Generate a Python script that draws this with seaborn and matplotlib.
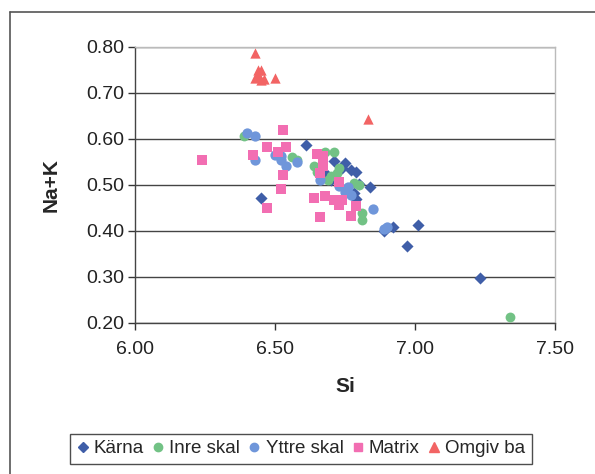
import pandas as pd
import matplotlib.pyplot as plt
import seaborn as sns
from matplotlib.lines import Line2D

# Si vs Na+K
karna_si = [6.45, 6.61, 6.68, 6.70, 6.71, 6.74, 6.75, 6.77, 6.79, 6.78, 6.79,
            6.80, 6.84, 6.89, 6.92, 6.97, 7.01, 7.23]
karna_nak = [0.472, 0.586, 0.525, 0.511, 0.551, 0.536, 0.547, 0.533, 0.528, 0.483,
             0.470, 0.502, 0.495, 0.399, 0.409, 0.366, 0.413, 0.298]

inre_si = [6.39, 6.56, 6.58, 6.64, 6.65, 6.68, 6.69, 6.70, 6.71, 6.72, 6.73,
           6.78, 6.80, 6.81, 6.81, 7.34]
inre_nak = [0.607, 0.560, 0.554, 0.540, 0.528, 0.572, 0.511, 0.520, 0.571, 0.525,
            0.536, 0.505, 0.500, 0.438, 0.424, 0.212]

yttre_si = [6.40, 6.43, 6.43, 6.50, 6.52, 6.52, 6.54, 6.58, 6.66, 6.73, 6.75,
            6.76, 6.77, 6.85, 6.89, 6.90]
yttre_nak = [0.612, 0.607, 0.553, 0.565, 0.562, 0.554, 0.540, 0.549, 0.511, 0.498,
             0.485, 0.496, 0.478, 0.448, 0.405, 0.409]

matrix_si = [6.24, 6.53, 6.47, 6.42, 6.51, 6.54, 6.53, 6.52, 6.47, 6.65, 6.67,
             6.67, 6.66, 6.64, 6.68, 6.71, 6.74, 6.73, 6.73, 6.79, 6.77, 6.66]
matrix_nak = [0.554, 0.620, 0.582, 0.565, 0.572, 0.583, 0.522, 0.491, 0.449, 0.567,
              0.563, 0.540, 0.525, 0.472, 0.476, 0.467, 0.467, 0.457, 0.507, 0.453,
              0.433, 0.430]

omgiv_si = [6.43, 6.44, 6.45, 6.43, 6.45, 6.46, 6.50, 6.44, 6.83]
omgiv_nak = [0.786, 0.749, 0.749, 0.732, 0.727, 0.730, 0.733, 0.738, 0.643]

series = ['Kärna', 'Inre skal', 'Yttre skal', 'Matrix', 'Omgiv ba']
colors = ['#3F5EA8', '#72C285', '#6F96DA', '#F26EB2', '#F26464']
markers = ['D', 'o', 'o', 's', '^']
sizes = [38, 50, 55, 48, 55]

frames = []
for name, xs, ys in zip(series,
                        [karna_si, inre_si, yttre_si, matrix_si, omgiv_si],
                        [karna_nak, inre_nak, yttre_nak, matrix_nak, omgiv_nak]):
    frames.append(pd.DataFrame({'Si': xs, 'Na+K': ys, 'serie': name}))
df = pd.concat(frames, ignore_index=True)

sns.set_style("white")
plt.rcParams['font.family'] = ['Liberation Sans', 'DejaVu Sans']

fig = plt.figure(figsize=(5.95, 4.74), dpi=100)
ax = fig.add_axes([0.227, 0.319, 0.706, 0.582])

for name, col, mk, sz in zip(series, colors, markers, sizes):
    sub = df[df['serie'] == name]
    sns.scatterplot(data=sub, x='Si', y='Na+K', ax=ax, color=col, marker=mk,
                    s=sz, linewidth=0, label=name, legend=False, zorder=3)

ax.set_xlim(6.0, 7.5)
ax.set_ylim(0.2, 0.8)
ax.set_xticks([6.0, 6.5, 7.0, 7.5])
ax.set_yticks([0.2, 0.3, 0.4, 0.5, 0.6, 0.7, 0.8])
ax.xaxis.set_major_formatter(plt.FormatStrFormatter('%.2f'))
ax.yaxis.set_major_formatter(plt.FormatStrFormatter('%.2f'))
ax.tick_params(axis='both', labelsize=14, direction='out', length=5, width=1,
               color='#333333', labelcolor='#222222', left=True, bottom=True)
ax.tick_params(axis='x', pad=8)
ax.tick_params(axis='y', pad=3)
ax.yaxis.grid(True, color='#444444', linewidth=1)
ax.set_axisbelow(True)

for side in ['left', 'bottom']:
    ax.spines[side].set_color('#444444')
    ax.spines[side].set_linewidth(1)
for side in ['top', 'right']:
    ax.spines[side].set_color('#BBBBBB')
    ax.spines[side].set_linewidth(1)

ax.set_xlabel('Si', fontsize=15, fontweight='bold', labelpad=14)
ax.set_ylabel('Na+K', fontsize=15, fontweight='bold', labelpad=18)

handles = [Line2D([], [], linestyle='none', marker=mk, color=col, markersize=ms)
           for col, mk, ms in zip(colors, markers, [5, 6, 6, 6, 7])]
leg = fig.legend(handles, series, loc='center', bbox_to_anchor=(0.506, 0.053),
                 ncol=5, fontsize=13.5, frameon=True, fancybox=False,
                 handlelength=0.6, handletextpad=0.3, columnspacing=0.45,
                 borderpad=0.35, borderaxespad=0)
leg.get_frame().set_edgecolor('#222222')
leg.get_frame().set_linewidth(1)

# chart area border (only left and top edges are inside the scan)
fig.add_artist(Line2D([10 / 595, 10 / 595], [0, 1 - 12 / 474],
                      transform=fig.transFigure, color='#555555', linewidth=1.2))
fig.add_artist(Line2D([10 / 595, 1], [1 - 12 / 474, 1 - 12 / 474],
                      transform=fig.transFigure, color='#555555', linewidth=1.2))

plt.savefig('out.png', dpi=100)
